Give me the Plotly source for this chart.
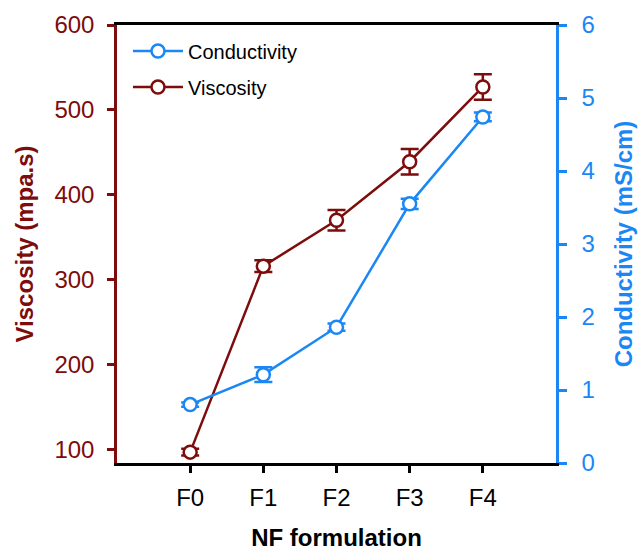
import plotly.graph_objects as go

formulations = ["F0", "F1", "F2", "F3", "F4"]
viscosity = [97, 316, 370, 439, 527]
viscosity_err = [4, 7, 12, 15, 15]
conductivity = [0.80, 1.21, 1.86, 3.55, 4.74]
conductivity_err = [0.03, 0.10, 0.05, 0.07, 0.06]

RED = "#7d0c0c"
BLUE = "#1a87f5"
FONT = "Liberation Sans, Arial, sans-serif"

fig = go.Figure()
fig.add_trace(go.Scatter(
    x=formulations, y=conductivity, name="Conductivity", yaxis="y2",
    mode="lines+markers", legendgroup="c",
    line=dict(color=BLUE, width=2.5),
    marker=dict(symbol="circle", size=13, color="white", line=dict(color=BLUE, width=2.5)),
    error_y=dict(type="data", array=conductivity_err, color=BLUE, thickness=2.5, width=9),
))
fig.add_trace(go.Scatter(
    x=formulations, y=viscosity, name="Viscosity", yaxis="y",
    mode="lines+markers", legendgroup="v",
    line=dict(color=RED, width=2.5),
    marker=dict(symbol="circle", size=13, color="white", line=dict(color=RED, width=2.5)),
    error_y=dict(type="data", array=viscosity_err, color=RED, thickness=2.5, width=9),
))

fig.update_layout(
    width=638, height=552,
    margin=dict(l=117, r=82, t=25, b=89, autoexpand=False),
    paper_bgcolor="white", plot_bgcolor="white",
    font=dict(family=FONT, size=20, color="black"),
    showlegend=True,
    legend=dict(x=0.025, y=0.985, xanchor="left", yanchor="top",
                font=dict(size=20, color="black"), bgcolor="rgba(0,0,0,0)",
                traceorder="grouped", tracegroupgap=7, itemwidth=50),
    xaxis=dict(
        type="category", categoryorder="array", categoryarray=formulations,
        range=[-1, 5], showgrid=False, zeroline=False, automargin=False,
        showline=True, linecolor="black", linewidth=2.5, mirror=True,
        ticks="outside", ticklen=7, tickwidth=2.5, tickcolor="black",
        tickfont=dict(size=24, color="black"), ticklabelstandoff=4,
        title=dict(text="<b>NF formulation</b>", font=dict(size=24, color="black"), standoff=20),
    ),
    yaxis=dict(
        range=[84.2, 600], tickvals=[100, 200, 300, 400, 500, 600],
        showgrid=False, zeroline=False, automargin=False,
        showline=True, linecolor=RED, linewidth=2.5,
        ticks="outside", ticklen=7, tickwidth=2.5, tickcolor=RED,
        tickfont=dict(size=24, color=RED), ticklabelstandoff=8,
        title=dict(text="<b>Viscosity (mpa.s)</b>", font=dict(size=24, color=RED), standoff=15),
    ),
    yaxis2=dict(
        range=[0, 6], tickvals=[0, 1, 2, 3, 4, 5, 6],
        overlaying="y", side="right", automargin=False,
        showgrid=False, zeroline=False,
        showline=True, linecolor=BLUE, linewidth=2.5,
        ticks="outside", ticklen=8, tickwidth=2.5, tickcolor=BLUE,
        tickfont=dict(size=24, color=BLUE), ticklabelstandoff=10,
        title=dict(text="<b>Conductivity (mS/cm)</b>", font=dict(size=24, color=BLUE), standoff=22),
    ),
)

fig.write_html("out.html", config={"displayModeBar": False},
               post_script="document.body.style.margin='0';")
